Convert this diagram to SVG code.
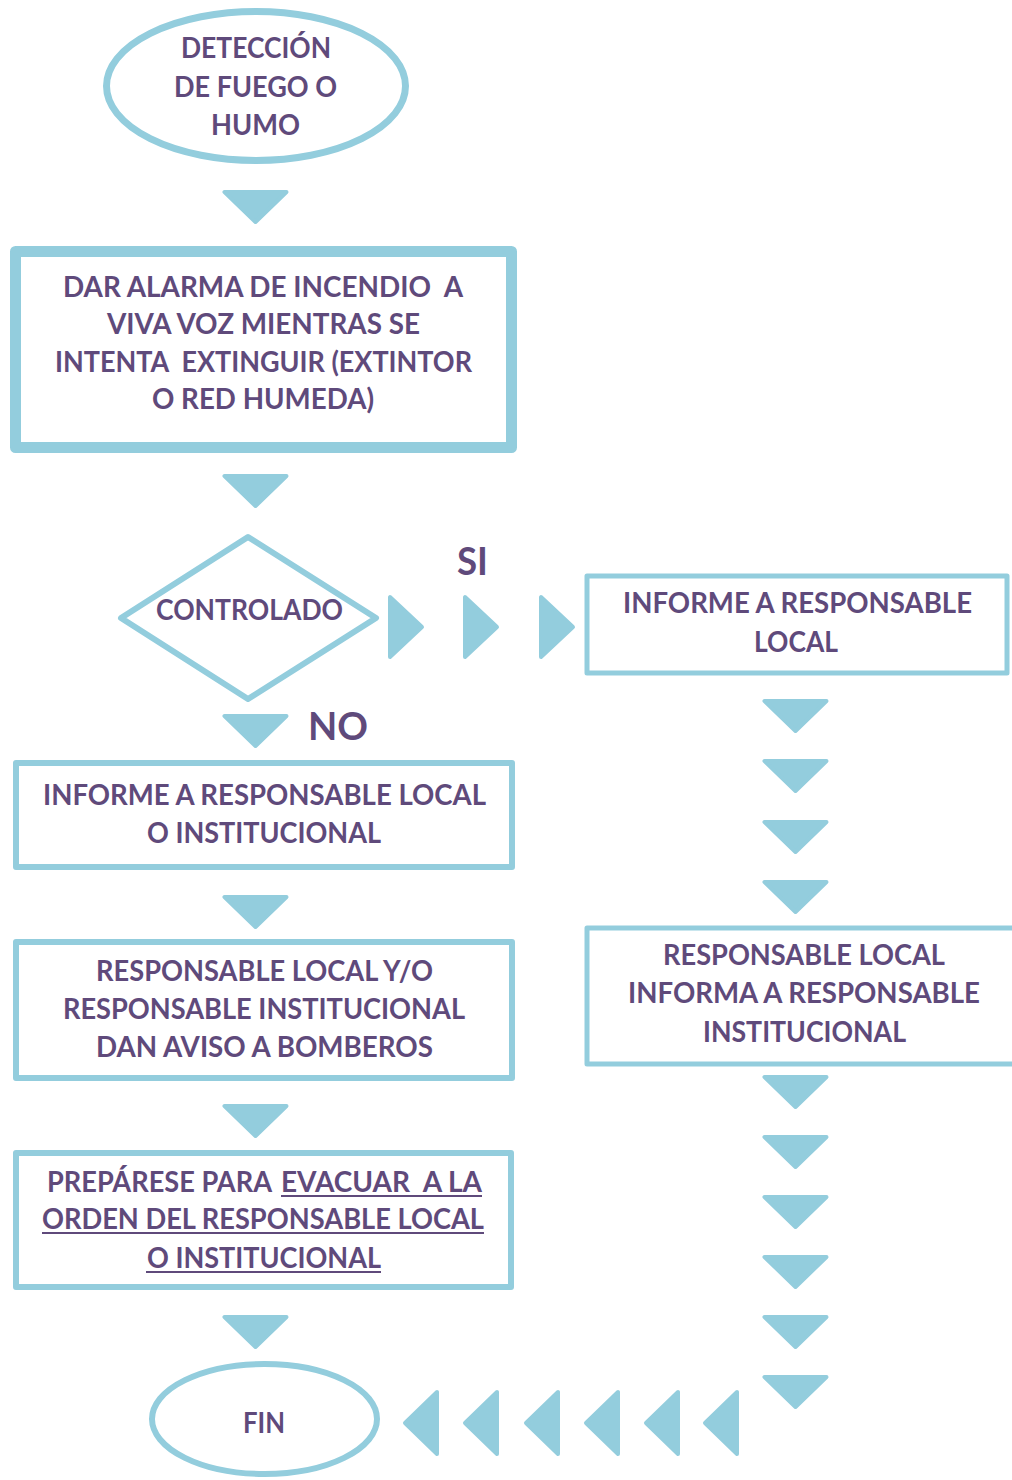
<svg xmlns="http://www.w3.org/2000/svg" xmlns:xlink="http://www.w3.org/1999/xlink" width="1012" height="1480" viewBox="0 0 1012 1480">
<style>
.bg{fill:#ffffff}
.shape{fill:#ffffff;stroke:#93CDDD;stroke-linejoin:round}
.tri{fill:#93CDDD;stroke:#93CDDD;stroke-width:4;stroke-linejoin:round}
.t{font-family:Lato,"Open Sans","Liberation Sans",sans-serif;font-weight:700;font-size:29px;fill:#5F4A7B}
.big{font-size:39px}
.ul{stroke:#5F4A7B;stroke-width:2}
</style>
<defs>
<path id="td" d="M-31,2 L31,2 L0,32 Z"/>
<path id="tr" d="M2,-30 L2,30 L34,0 Z"/>
<path id="tl" d="M34,-31 L34,31 L2,0 Z"/>
</defs>
<rect class="bg" x="0" y="0" width="1012" height="1480"/>

<g id="connectors">
<use class="tri" xlink:href="#td" x="255.5" y="190"/>
<use class="tri" xlink:href="#td" x="255.5" y="474"/>
<use class="tri" xlink:href="#td" x="255.5" y="714"/>
<use class="tri" xlink:href="#td" x="255.5" y="895"/>
<use class="tri" xlink:href="#td" x="255.5" y="1104"/>
<use class="tri" xlink:href="#td" x="255.5" y="1315"/>
<use class="tri" xlink:href="#tr" x="388" y="627"/>
<use class="tri" xlink:href="#tr" x="463" y="627"/>
<use class="tri" xlink:href="#tr" x="539" y="627"/>
<use class="tri" xlink:href="#td" x="795.5" y="699"/>
<use class="tri" xlink:href="#td" x="795.5" y="759"/>
<use class="tri" xlink:href="#td" x="795.5" y="820"/>
<use class="tri" xlink:href="#td" x="795.5" y="880"/>
<use class="tri" xlink:href="#td" x="795.5" y="1075"/>
<use class="tri" xlink:href="#td" x="795.5" y="1135"/>
<use class="tri" xlink:href="#td" x="795.5" y="1195"/>
<use class="tri" xlink:href="#td" x="795.5" y="1255"/>
<use class="tri" xlink:href="#td" x="795.5" y="1315"/>
<use class="tri" xlink:href="#td" x="795.5" y="1375"/>
<use class="tri" xlink:href="#tl" x="403" y="1423"/>
<use class="tri" xlink:href="#tl" x="463" y="1423"/>
<use class="tri" xlink:href="#tl" x="524" y="1423"/>
<use class="tri" xlink:href="#tl" x="584" y="1423"/>
<use class="tri" xlink:href="#tl" x="644" y="1423"/>
<use class="tri" xlink:href="#tl" x="703" y="1423"/>
<text class="t big" x="457" y="575" textLength="31" lengthAdjust="spacingAndGlyphs">SI</text>
<text class="t big" x="308" y="740" textLength="60" lengthAdjust="spacingAndGlyphs">NO</text>
</g>

<g id="start">
<ellipse class="shape" cx="256" cy="86" rx="149.5" ry="74.5" stroke-width="7"/>
<text class="t" x="181" y="58" textLength="150" lengthAdjust="spacingAndGlyphs">DETECCIÓN</text>
<text class="t" x="174" y="97" textLength="163" lengthAdjust="spacingAndGlyphs">DE FUEGO O</text>
<text class="t" x="211" y="135" textLength="89" lengthAdjust="spacingAndGlyphs">HUMO</text>
</g>

<g id="alarma">
<rect class="shape" x="15.5" y="251.5" width="496" height="196" stroke-width="11"/>
<text class="t" xml:space="preserve" x="63" y="297" textLength="400" lengthAdjust="spacingAndGlyphs">DAR ALARMA DE INCENDIO  A</text>
<text class="t" x="107" y="334" textLength="313" lengthAdjust="spacingAndGlyphs">VIVA VOZ MIENTRAS SE</text>
<text class="t" xml:space="preserve" x="55" y="372" textLength="417" lengthAdjust="spacingAndGlyphs">INTENTA  EXTINGUIR (EXTINTOR</text>
<text class="t" x="152" y="409" textLength="222" lengthAdjust="spacingAndGlyphs">O RED HUMEDA)</text>
</g>

<g id="controlado">
<polygon class="shape" points="121,618 248,537 376,618 248,699" stroke-width="6"/>
<text class="t" style="font-size:28px" x="156" y="620" textLength="187" lengthAdjust="spacingAndGlyphs">CONTROLADO</text>
</g>

<g id="informe-local">
<rect class="shape" x="587" y="576" width="420" height="97" stroke-width="5"/>
<text class="t" x="623" y="613" textLength="349" lengthAdjust="spacingAndGlyphs">INFORME A RESPONSABLE</text>
<text class="t" x="754" y="652" textLength="84" lengthAdjust="spacingAndGlyphs">LOCAL</text>
</g>

<g id="informa-institucional">
<rect class="shape" x="587" y="928" width="440" height="136" stroke-width="5"/>
<text class="t" x="663" y="965" textLength="282" lengthAdjust="spacingAndGlyphs">RESPONSABLE LOCAL</text>
<text class="t" x="628" y="1003" textLength="352" lengthAdjust="spacingAndGlyphs">INFORMA A RESPONSABLE</text>
<text class="t" x="703" y="1042" textLength="203" lengthAdjust="spacingAndGlyphs">INSTITUCIONAL</text>
</g>

<g id="informe-local-institucional">
<rect class="shape" x="16" y="763" width="496" height="104" stroke-width="6"/>
<text class="t" x="43" y="805" textLength="443" lengthAdjust="spacingAndGlyphs">INFORME A RESPONSABLE LOCAL</text>
<text class="t" x="147" y="843" textLength="234" lengthAdjust="spacingAndGlyphs">O INSTITUCIONAL</text>
</g>

<g id="bomberos">
<rect class="shape" x="16" y="942" width="496" height="136" stroke-width="6"/>
<text class="t" x="96" y="981" textLength="337" lengthAdjust="spacingAndGlyphs">RESPONSABLE LOCAL Y/O</text>
<text class="t" x="63" y="1019" textLength="402" lengthAdjust="spacingAndGlyphs">RESPONSABLE INSTITUCIONAL</text>
<text class="t" x="96" y="1057" textLength="337" lengthAdjust="spacingAndGlyphs">DAN AVISO A BOMBEROS</text>
</g>

<g id="evacuar">
<rect class="shape" x="16" y="1153" width="495" height="134" stroke-width="6"/>
<text class="t" x="47" y="1192" textLength="225" lengthAdjust="spacingAndGlyphs">PREPÁRESE PARA</text>
<text class="t" xml:space="preserve" x="281" y="1192" textLength="201" lengthAdjust="spacingAndGlyphs">EVACUAR  A LA</text>
<text class="t" x="42" y="1229" textLength="442" lengthAdjust="spacingAndGlyphs">ORDEN DEL RESPONSABLE LOCAL</text>
<text class="t" x="147" y="1268" textLength="234" lengthAdjust="spacingAndGlyphs">O INSTITUCIONAL</text>
<line class="ul" x1="281" y1="1196" x2="482" y2="1196"/>
<line class="ul" x1="42" y1="1233" x2="484" y2="1233"/>
<line class="ul" x1="146" y1="1272" x2="381" y2="1272"/>
</g>

<g id="fin">
<ellipse class="shape" cx="264.5" cy="1419" rx="112.5" ry="55" stroke-width="6"/>
<text class="t" style="font-size:28px" x="243" y="1433" textLength="42" lengthAdjust="spacingAndGlyphs">FIN</text>
</g>
</svg>
